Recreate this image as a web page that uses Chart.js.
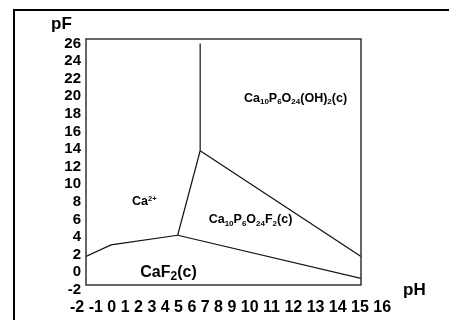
<!DOCTYPE html>
<html>
<head>
<meta charset="utf-8">
<script src="https://cdn.jsdelivr.net/npm/chart.js@4.4.1/dist/chart.umd.min.js"></script>
<style>
  html, body { margin: 0; padding: 0; background: #fff; overflow: hidden; }
  #wrap { position: relative; width: 449px; height: 320px; }
  #frame { position: absolute; left: 13px; top: 9px; width: 500px; height: 400px; border: 2px solid #000; pointer-events: none; }
  canvas { position: absolute; left: 0; top: 0; }
</style>
</head>
<body>
<div id="wrap">
  <canvas id="myChart" width="449" height="320"></canvas>
  <div id="frame"></div>
</div>
<script>
const FONT = '"Liberation Sans", Arial, sans-serif'

// axis labels
const pfTicks = [-2, 0, 2, 4, 6, 8, 10, 12, 14, 16, 18, 20, 22, 24, 26]
const phLabels = ['-2', '-1', '0', '1', '2', '3', '4', '5', '6', '7', '8', '9', '10', '11', '12', '13', '14', '15', '16']

// phase boundaries (pH, pF)
const caf2CaPH = [-1.5, 0, 4]
const caf2CaPF = [1.8, 3.1, 4.2]
const caf2FapPH = [4, 15]
const caf2FapPF = [4.2, -0.7]
const caFapPH = [4, 5.35]
const caFapPF = [4.2, 13.8]
const fapHapPH = [5.35, 15]
const fapHapPF = [13.8, 1.8]
const caHapPH = [5.35, 5.35]
const caHapPF = [13.8, 26]

// region names: [text, 'sub'|'sup'|'']
const regionHap = [['Ca', ''], ['10', 'sub'], ['P', ''], ['6', 'sub'], ['O', ''], ['24', 'sub'], ['(OH)', ''], ['2', 'sub'], ['(c)', '']]
const regionFap = [['Ca', ''], ['10', 'sub'], ['P', ''], ['6', 'sub'], ['O', ''], ['24', 'sub'], ['F', ''], ['2', 'sub'], ['(c)', '']]
const regionCa = [['Ca', ''], ['2+', 'sup']]
const regionCaf2 = [['CaF', ''], ['2', 'sub'], ['(c)', '']]

const regionLabels = [
    { parts: regionHap, ph: 11.07, pf: 19.9, size: 12.5, small: 0.64 },
    { parts: regionFap, ph: 8.37, pf: 6.05, size: 12.5, small: 0.64 },
    { parts: regionCa, ph: 2.0, pf: 8.1, size: 12.5, small: 0.6 },
    { parts: regionCaf2, ph: 3.45, pf: 0.15, size: 16, small: 0.75 },
]

function toPoints(xs, ys) {
    return xs.map((x, i) => ({ x: x, y: ys[i] }))
}

function boundary(xs, ys) {
    return {
        data: toPoints(xs, ys),
        showLine: true,
        borderColor: '#111',
        borderWidth: 1.2,
        pointRadius: 0,
        fill: false,
    }
}

function drawRich(ctx, parts, cx, cy, size, small) {
    let total = 0
    const items = parts.map(([t, k]) => {
        const fs = k ? size * small : size
        ctx.font = `bold ${fs}px ${FONT}`
        const w = ctx.measureText(t).width
        total += w
        return { t, k, fs, w }
    })
    let x = cx - total / 2
    const base = cy + size * 0.36
    ctx.textAlign = 'left'
    ctx.textBaseline = 'alphabetic'
    items.forEach(m => {
        ctx.font = `bold ${m.fs}px ${FONT}`
        let dy = 0
        if (m.k === 'sub') dy = size * 0.2
        if (m.k === 'sup') dy = -size * 0.38
        ctx.fillText(m.t, x, base + dy)
        x += m.w
    })
}

const textPlugin = {
    id: 'texts',
    afterDatasetsDraw(chart) {
        const ctx = chart.ctx
        const a = chart.chartArea
        const xs = chart.scales.x, ys = chart.scales.y
        ctx.save()
        // plot frame
        ctx.strokeStyle = '#333'
        ctx.lineWidth = 1.5
        ctx.strokeRect(a.left, a.top, a.right - a.left, a.bottom - a.top)

        ctx.fillStyle = '#000'
        regionLabels.forEach(l => {
            drawRich(ctx, l.parts, xs.getPixelForValue(l.ph), ys.getPixelForValue(l.pf), l.size, l.small)
        })

        // pH labels typed as one line under the plot
        ctx.font = `bold 16px ${FONT}`
        ctx.textAlign = 'left'
        ctx.textBaseline = 'middle'
        ctx.fillText(phLabels.join(' '), a.left - 16, a.bottom + 23)

        // axis names
        ctx.font = `bold 17px ${FONT}`
        ctx.textBaseline = 'alphabetic'
        ctx.fillText('pF', a.left - 35, a.top - 10)
        ctx.fillText('pH', a.right + 42, a.bottom + 10)
        ctx.restore()
    }
}

const config = {
    type: 'scatter',
    data: {
        datasets: [
            boundary(caf2CaPH, caf2CaPF),
            boundary(caf2FapPH, caf2FapPF),
            boundary(caFapPH, caFapPF),
            boundary(fapHapPH, fapHapPF),
            boundary(caHapPH, caHapPF),
        ]
    },
    options: {
        responsive: false,
        animation: false,
        layout: { padding: { left: 0, top: 39, right: 88, bottom: 35 } },
        plugins: { legend: { display: false }, tooltip: { enabled: false } },
        scales: {
            x: { type: 'linear', min: -1.5, max: 15, display: false },
            y: {
                type: 'linear',
                min: -1.45,
                max: 26.5,
                grid: { display: false, drawTicks: false },
                border: { display: false },
                ticks: {
                    autoSkip: false,
                    padding: 5,
                    color: '#000',
                    font: { family: FONT, size: 15, weight: 'bold' },
                    callback: v => String(v)
                },
                afterBuildTicks: axis => { axis.ticks = pfTicks.map(v => ({ value: v })) },
                afterFit: axis => { axis.width = 86 }
            }
        }
    },
    plugins: [textPlugin]
}

const myChart = new Chart(document.querySelector('#myChart'), config)
</script>
</body>
</html>
